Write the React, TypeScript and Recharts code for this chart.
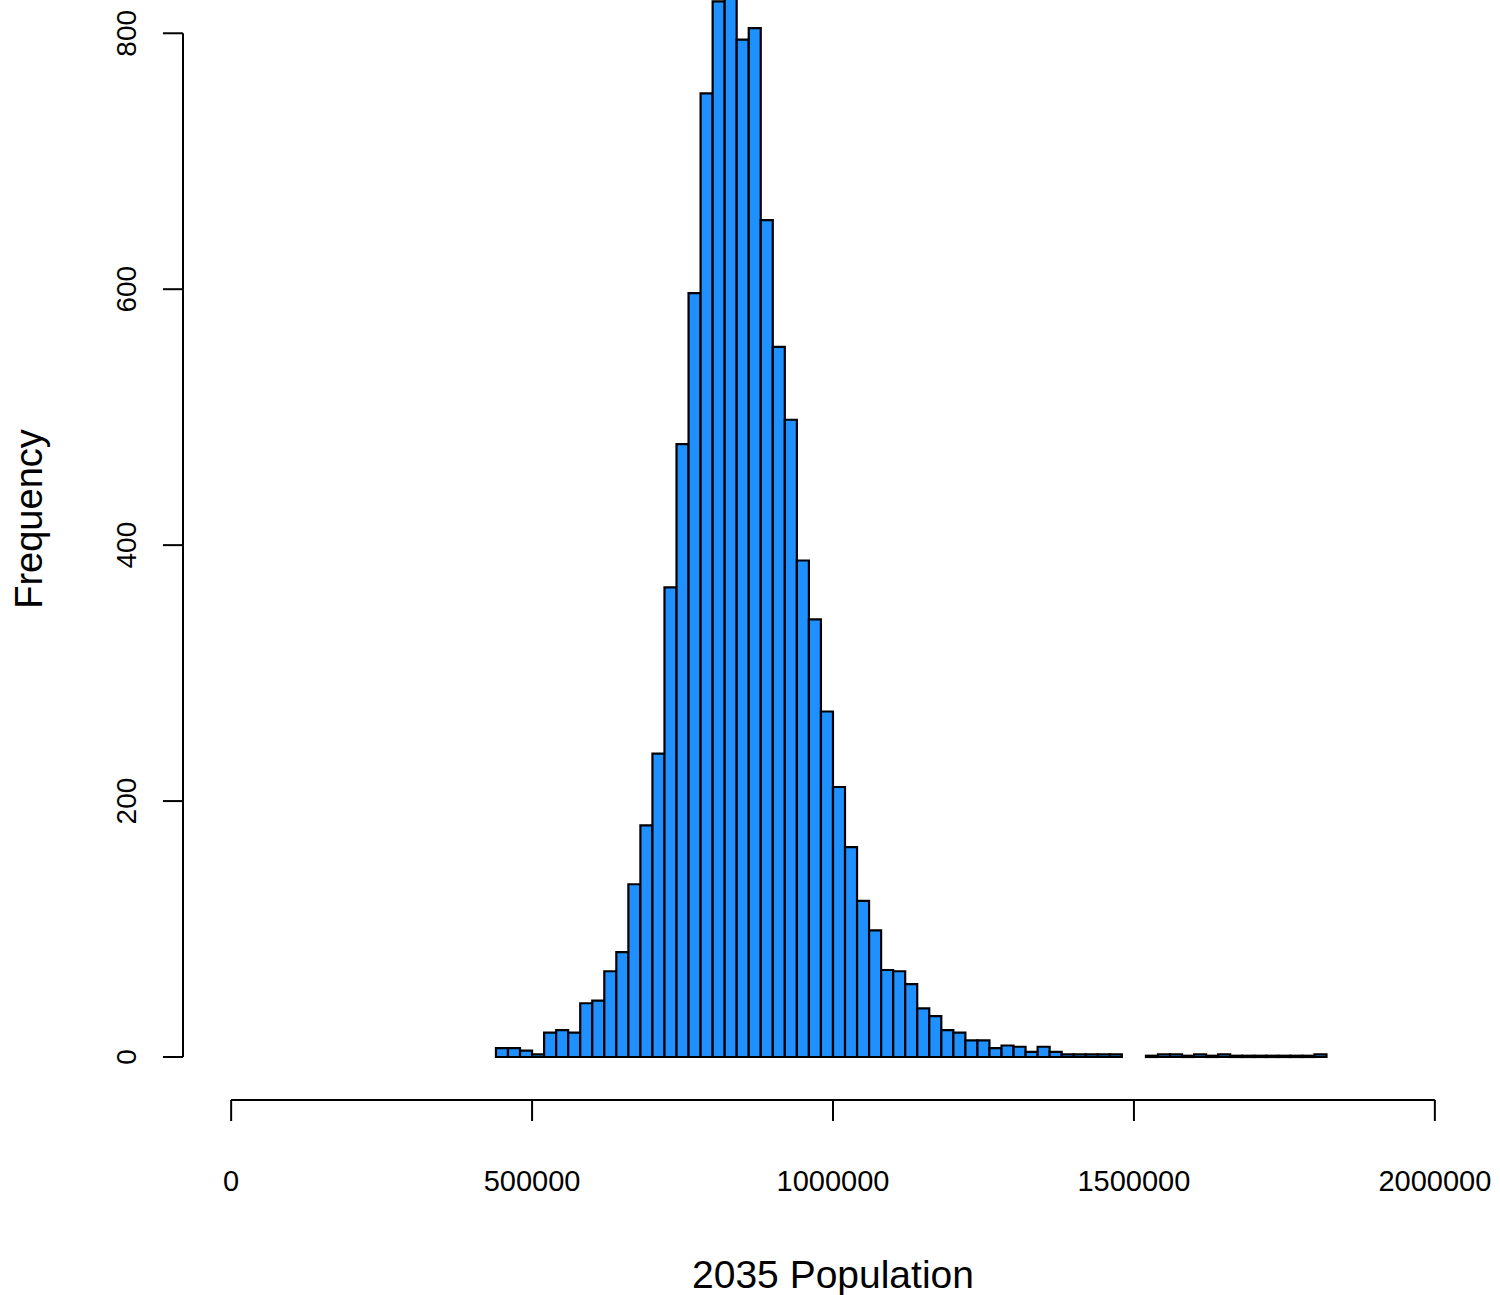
import React from "react";
import {
  BarChart,
  Bar,
  XAxis,
  YAxis,
  ReferenceLine,
} from "recharts";

// Histogram of simulated 2035 population, bins of 20000 starting at 440000
const BIN_START = 440000;
const BIN_WIDTH = 20000;
const counts = [
  7, 7, 5, 2, 19, 21, 19, 42, 44, 67,
  82, 135, 181, 237, 367, 479, 597, 753, 825, 840,
  795, 804, 654, 555, 498, 388, 342, 270, 211, 164,
  122, 99, 68, 67, 57, 38, 32, 21, 19, 13,
  13, 7, 9, 8, 4, 8, 4, 2, 2, 2,
  2, 2, 0, 0, 1, 2, 2, 1, 2, 1,
  2, 1, 1, 1, 1, 1, 1, 1, 2,
];

// R style axis limits (xlim = c(0, 2e6) with 4% padding)
const X_DOMAIN: [number, number] = [-80000, 2080000];
const xTicks = [0, 500000, 1000000, 1500000, 2000000];
const yTicks = [0, 200, 400, 600, 800];
const Y_DOMAIN: [number, number] = [-33.6, 826];

const FONT = '"Liberation Sans", Arial, sans-serif';
const BAR_COLOR = "#1E90FF";

// one row per bin, placed at the bin midpoint on the numeric axis
const histData = counts.map((c, i) => ({
  mid: BIN_START + i * BIN_WIDTH + BIN_WIDTH / 2,
  count: c,
}));

const YTick = (props: any) => {
  const { x, y, payload } = props;
  return (
    <text
      x={x}
      y={y}
      transform={`rotate(-90 ${x} ${y})`}
      textAnchor="middle"
      fontSize={28}
      fontFamily={FONT}
      fill="#000"
    >
      {payload.value}
    </text>
  );
};

const YTitle = (props: any) => {
  const vb = props.viewBox || { x: 0, y: 0, height: 1100 };
  const x = vb.x + 42;
  const y = vb.y + vb.height / 2 - 31;
  return (
    <text
      x={x}
      y={y}
      transform={`rotate(-90 ${x} ${y})`}
      textAnchor="middle"
      fontSize={38}
      fontFamily={FONT}
      fill="#000"
    >
      Frequency
    </text>
  );
};

const XTitle = (props: any) => {
  const vb = props.viewBox || { x: 183, y: 1100, width: 1300, height: 195 };
  return (
    <text
      x={vb.x + vb.width / 2}
      y={vb.y + 188}
      textAnchor="middle"
      fontSize={39}
      fontFamily={FONT}
      fill="#000"
    >
      2035 Population
    </text>
  );
};

export default function App() {
  return (
    <div style={{ position: "absolute", left: 0, top: 0, background: "#fff" }}>
      <BarChart
        width={1500}
        height={1295}
        data={histData}
        margin={{ top: 0, right: 17, bottom: 0, left: 0 }}
        barCategoryGap={0}
        barGap={0}
      >
        <XAxis
          dataKey="mid"
          type="number"
          domain={X_DOMAIN}
          allowDataOverflow
          ticks={xTicks}
          interval={0}
          height={195}
          axisLine={false}
          tickSize={21}
          tickMargin={49}
          tickLine={{ stroke: "#000", strokeWidth: 2 }}
          tick={{ fontSize: 29, fill: "#000", fontFamily: FONT }}
          label={<XTitle />}
        />
        <YAxis
          type="number"
          domain={Y_DOMAIN}
          allowDataOverflow
          ticks={yTicks}
          interval={0}
          width={183}
          axisLine={false}
          tickSize={20}
          tickMargin={27}
          tickLine={{ stroke: "#000", strokeWidth: 2 }}
          tick={<YTick />}
          label={<YTitle />}
        />
        <Bar
          dataKey="count"
          fill={BAR_COLOR}
          stroke="#000"
          strokeWidth={2.2}
          isAnimationActive={false}
        />
        {/* R draws axis lines only across the tick range */}
        <ReferenceLine
          segment={[
            { x: xTicks[0], y: Y_DOMAIN[0] },
            { x: xTicks[xTicks.length - 1], y: Y_DOMAIN[0] },
          ]}
          stroke="#000"
          strokeWidth={2}
          ifOverflow="visible"
        />
        <ReferenceLine
          segment={[
            { x: X_DOMAIN[0], y: yTicks[0] },
            { x: X_DOMAIN[0], y: yTicks[yTicks.length - 1] },
          ]}
          stroke="#000"
          strokeWidth={2}
          ifOverflow="visible"
        />
      </BarChart>
    </div>
  );
}
